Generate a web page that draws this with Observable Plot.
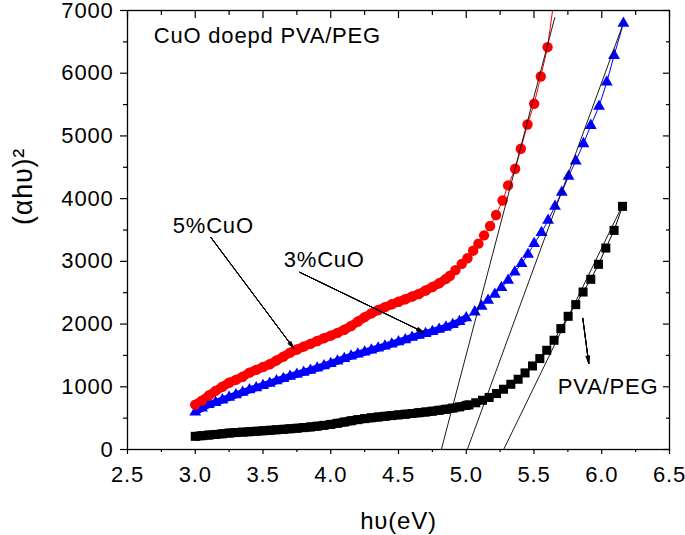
<!DOCTYPE html>
<html>
<head>
<meta charset="utf-8">
<script src="https://cdn.jsdelivr.net/npm/d3@7"></script>
<script src="https://cdn.jsdelivr.net/npm/@observablehq/plot@0.6"></script>
<style>
  body { margin: 0; background: #fff; }
  #chart svg { display: block; }
</style>
</head>
<body>
<div id="chart"></div>
<script>
// ---- axis ticks ----
const xTicks = [2.5, 3.0, 3.5, 4.0, 4.5, 5.0, 5.5, 6.0, 6.5];
const xMinor = [2.75, 3.25, 3.75, 4.25, 4.75, 5.25, 5.75, 6.25];
const yTicks = [0, 1000, 2000, 3000, 4000, 5000, 6000, 7000];
const yMinor = [500, 1500, 2500, 3500, 4500, 5500, 6500];

// ---- 5% CuO (red circles) ----
const redEnergy = [3.00,3.05,3.10,3.15,3.20,3.25,3.30,3.35,3.40,3.45,3.50,3.55,3.60,3.65,3.70,3.75,3.80,3.85,3.90,3.95,
  4.00,4.05,4.10,4.15,4.20,4.25,4.30,4.35,4.40,4.45,4.50,4.55,4.60,4.65,4.70,4.75,4.80,4.85,4.88,4.92,4.967,
  5.009,5.051,5.090,5.132,5.176,5.220,5.268,5.309,5.361,5.403,5.452,5.501,5.550,5.600];
const redValue = [715,780,860,935,1000,1065,1110,1160,1225,1270,1315,1360,1420,1480,1545,1595,1640,1685,1730,1775,
  1815,1860,1910,1970,2040,2110,2170,2225,2270,2315,2355,2395,2440,2480,2535,2590,2650,2720,2770,2860,2960,
  3050,3170,3282,3415,3563,3740,3970,4211,4477,4796,5183,5513,5948,6415];
const redFitEnergy = [5.600, 5.637];
const redFitValue = [6415, 7000];

// ---- 3% CuO (blue triangles) ----
const blueEnergy = [3.00,3.05,3.10,3.15,3.20,3.25,3.30,3.35,3.40,3.45,3.50,3.55,3.60,3.65,3.70,3.75,3.80,3.85,3.90,3.95,
  4.00,4.05,4.10,4.15,4.20,4.25,4.30,4.35,4.40,4.45,4.50,4.55,4.60,4.65,4.70,4.75,4.80,4.85,4.90,4.95,5.00,
  5.063,5.113,5.161,5.211,5.260,5.309,5.358,5.408,5.456,5.501,5.555,5.604,5.655,5.705,5.755,5.808,5.865,5.919,5.980,6.037,6.091,6.160];
const blueValue = [595,660,715,750,790,830,870,910,950,985,1020,1055,1095,1130,1165,1200,1230,1262,1297,1333,
  1370,1410,1450,1488,1520,1552,1584,1616,1648,1682,1716,1750,1790,1820,1850,1880,1915,1950,1990,2040,2100,
  2193,2283,2379,2475,2581,2698,2830,2964,3112,3282,3457,3654,3877,4100,4355,4599,4876,5167,5470,5857,6283,6797];

// ---- PVA/PEG (black squares) ----
const blackEnergy = [3.00,3.05,3.10,3.15,3.20,3.25,3.30,3.35,3.40,3.45,3.50,3.55,3.60,3.65,3.70,3.75,3.80,3.85,3.90,3.95,
  4.00,4.05,4.10,4.15,4.20,4.25,4.30,4.35,4.40,4.45,4.50,4.55,4.60,4.65,4.70,4.75,4.80,4.85,4.90,4.95,5.00,5.02,
  5.070,5.120,5.169,5.223,5.275,5.329,5.383,5.434,5.489,5.543,5.594,5.648,5.698,5.752,5.808,5.862,5.919,5.976,6.030,6.091,6.153];
const blackValue = [210,220,230,240,250,262,270,277,284,291,298,306,314,322,330,339,349,360,372,385,
  400,418,438,458,476,492,506,518,530,541,552,563,574,586,598,611,626,642,660,680,703,712,
  745,785,830,892,961,1040,1120,1221,1332,1450,1582,1742,1928,2124,2310,2511,2714,2953,3212,3494,3877];

// energy up to which the measured points are so dense that their symbols merge into a band
const denseEnd = {red: 4.88, blue: 5.00, black: 5.02};

// ---- tangent (extrapolation) lines ----
const tangentX1 = [4.816, 5.008, 5.276];
const tangentY1 = [0, 0, 0];
const tangentX2 = [5.654, 6.160, 6.150];
const tangentY2 = [6893, 6800, 3880];

// ---- annotations ----
const labelText = ["CuO doepd PVA/PEG", "5%CuO", "3%CuO", "PVA/PEG"];
const labelX = [2.694, 2.834, 3.653, 5.676];
const labelY = [6593, 3566, 3024, 1001];

const arrowX1 = [3.115, 3.772, 5.860];
const arrowY1 = [3383, 2825, 2092];
const arrowX2 = [3.727, 4.687, 5.904];
const arrowY2 = [1614, 1869, 1375];

// ---- build tables ----
const toRows = (xs, ys) => xs.map((x, i) => ({x, y: ys[i]}));
const red = toRows(redEnergy, redValue);
const redFit = toRows(redFitEnergy, redFitValue);
const blue = toRows(blueEnergy, blueValue);
const black = toRows(blackEnergy, blackValue);
const tangents = tangentX1.map((x1, i) => ({x1, y1: tangentY1[i], x2: tangentX2[i], y2: tangentY2[i]}));
const labels = labelText.map((t, i) => ({t, x: labelX[i], y: labelY[i]}));
const arrows = arrowX1.map((x1, i) => ({x1, y1: arrowY1[i], x2: arrowX2[i], y2: arrowY2[i]}));

const FONT = "'Liberation Sans', Arial, Helvetica, sans-serif";
const blank = () => "";

const arrowMarks = [30, 20, 10, 4].map(a =>
  Plot.arrow(arrows, {x1: "x1", y1: "y1", x2: "x2", y2: "y2", stroke: "black", strokeWidth: 1, headLength: 11, headAngle: a})
);

const chart = Plot.plot({
  width: 685,
  height: 535,
  marginLeft: 127,
  marginRight: 16,
  marginTop: 10,
  marginBottom: 86,
  x: {domain: [2.5, 6.5]},
  y: {domain: [0, 7000]},
  style: {fontFamily: FONT, fontSize: "22px", color: "black", background: "white", overflow: "visible", letterSpacing: "0.8px"},
  marks: [
    // thick band where the dense symbols overlap
    Plot.line(black.filter(d => d.x <= denseEnd.black), {x: "x", y: "y", stroke: "#000000", strokeWidth: 9, strokeLinecap: "butt"}),
    Plot.line(blue.filter(d => d.x <= denseEnd.blue), {x: "x", y: "y", stroke: "#0000ff", strokeWidth: 7, strokeLinecap: "butt"}),
    Plot.line(red.filter(d => d.x <= denseEnd.red), {x: "x", y: "y", stroke: "#ff0000", strokeWidth: 9, strokeLinecap: "round"}),
    // connecting lines
    Plot.line(red, {x: "x", y: "y", stroke: "#ff0000", strokeWidth: 1}),
    Plot.line(redFit, {x: "x", y: "y", stroke: "#ff0000", strokeWidth: 1}),
    Plot.line(blue, {x: "x", y: "y", stroke: "#0000ff", strokeWidth: 1}),
    Plot.line(black, {x: "x", y: "y", stroke: "#000000", strokeWidth: 1}),
    // markers
    Plot.dot(black, {x: "x", y: "y", symbol: "square", r: 5.1, fill: "#000000", stroke: "none"}),
    Plot.dot(blue, {x: "x", y: "y", symbol: "triangle", r: 4.4, fill: "#0000ff", stroke: "none"}),
    Plot.dot(red, {x: "x", y: "y", symbol: "circle", r: 5.2, fill: "#ff0000", stroke: "none"}),
    // tangent lines
    Plot.link(tangents, {x1: "x1", y1: "y1", x2: "x2", y2: "y2", stroke: "black", strokeWidth: 0.9}),
    // arrows
    ...arrowMarks,
    // annotations
    Plot.text(labels, {x: "x", y: "y", text: "t", textAnchor: "start", lineAnchor: "middle", fontSize: 22, fill: "black"}),
    // axis titles
    Plot.text(["hυ(eV)"], {frameAnchor: "bottom", dy: 72, lineAnchor: "middle", fontSize: 24, fill: "black"}),
    Plot.text(["(αhυ)²"], {frameAnchor: "left", dx: -104, dy: -5, rotate: -90, lineAnchor: "middle", fontSize: 27, fill: "black"}),
    // axes
    Plot.axisX(xTicks, {anchor: "bottom", tickSize: 5, tickPadding: 12, tickFormat: d => d.toFixed(1), fontSize: 22, label: null, strokeWidth: 1.2}),
    Plot.axisX(xMinor, {anchor: "bottom", tickSize: 3, tickFormat: blank, label: null, strokeWidth: 1.2}),
    Plot.axisX(xTicks, {anchor: "top", tickSize: 7, dy: 7, tickFormat: blank, label: null, strokeWidth: 1.2}),
    Plot.axisX(xMinor, {anchor: "top", tickSize: 4, dy: 4, tickFormat: blank, label: null, strokeWidth: 1.2}),
    Plot.axisY(yTicks, {anchor: "left", tickSize: 7, tickPadding: 7, tickFormat: d => String(d), fontSize: 22, label: null, strokeWidth: 1.2}),
    Plot.axisY(yMinor, {anchor: "left", tickSize: 4, tickFormat: blank, label: null, strokeWidth: 1.2}),
    Plot.axisY(yTicks, {anchor: "right", tickSize: 7, dx: -7, tickFormat: blank, label: null, strokeWidth: 1.2}),
    Plot.axisY(yMinor, {anchor: "right", tickSize: 4, dx: -4, tickFormat: blank, label: null, strokeWidth: 1.2}),
    Plot.frame({stroke: "black", strokeWidth: 1.3})
  ]
});

document.getElementById("chart").appendChild(chart);
</script>
</body>
</html>
